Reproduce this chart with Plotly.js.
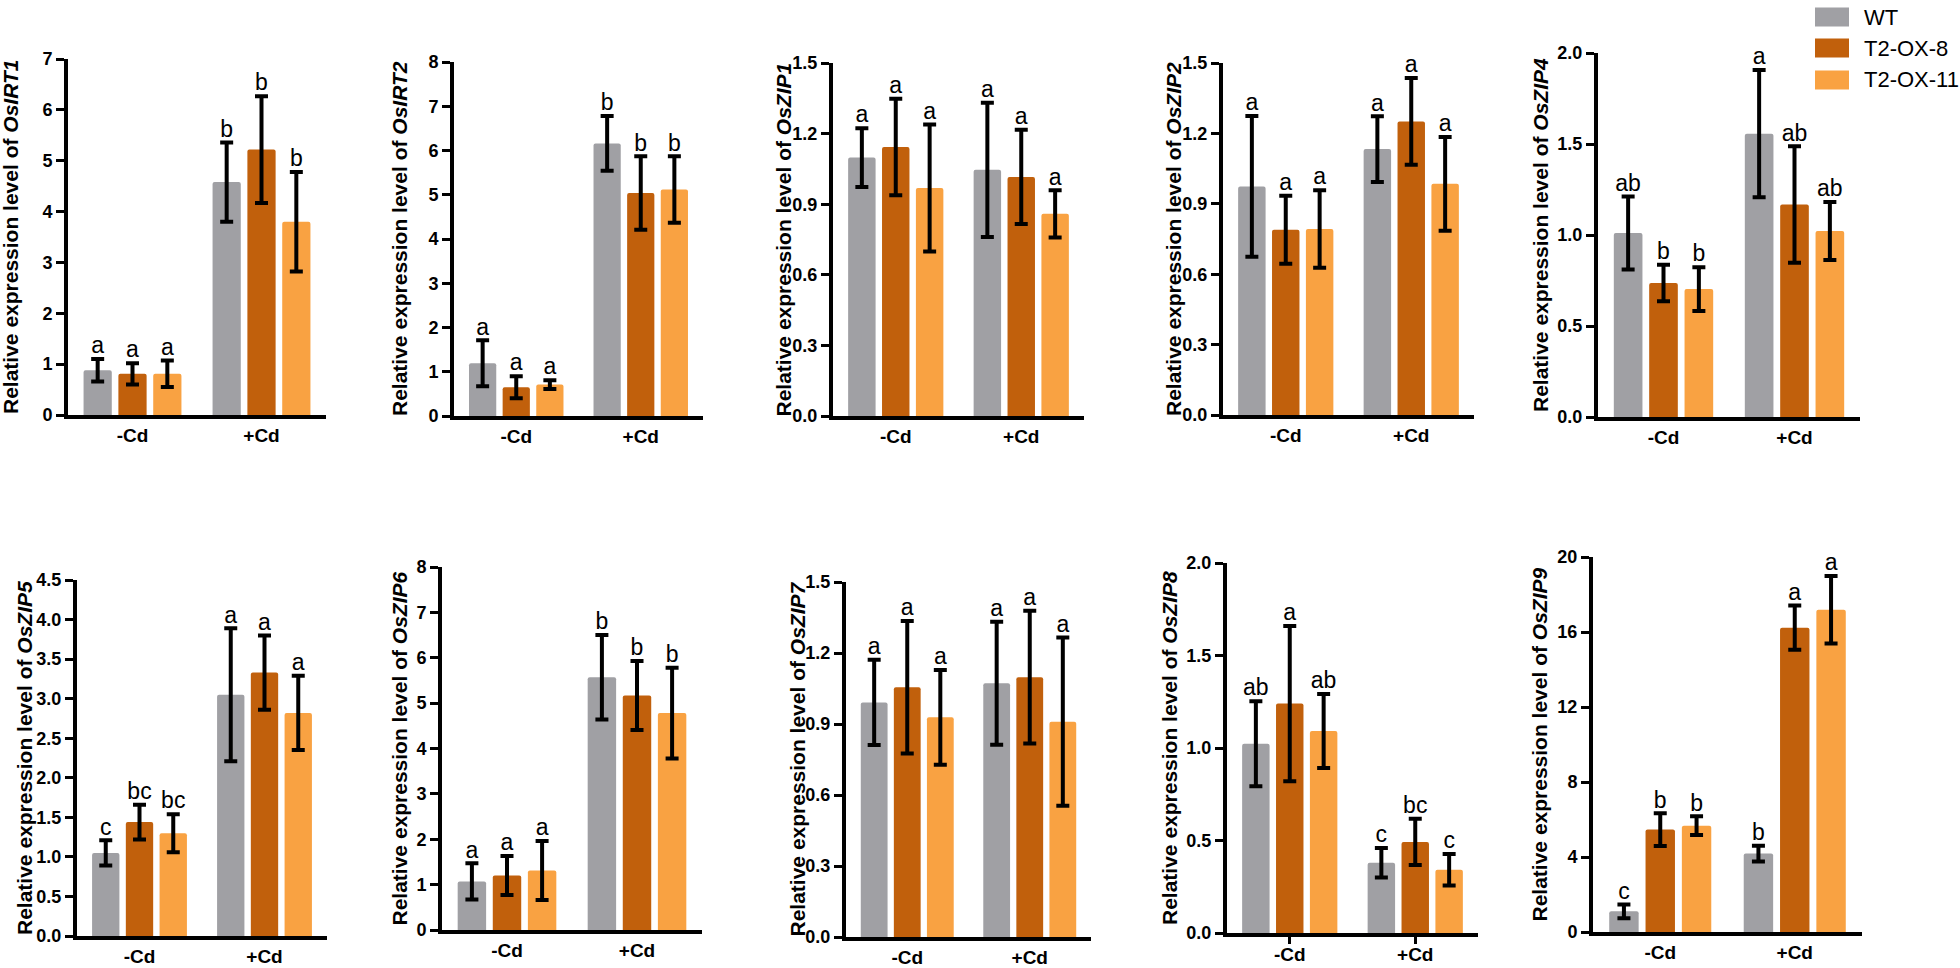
<!DOCTYPE html>
<html>
<head>
<meta charset="utf-8">
<script src="https://cdn.plot.ly/plotly-3.0.1.min.js"></script>
<style>
  html, body { margin: 0; padding: 0; background: #ffffff; }
  #chart { width: 1960px; height: 968px; }
</style>
</head>
<body>
<div id="chart"></div>
<script>
// ---------------- DATA ----------------
const genes = ['OsIRT1', 'OsIRT2', 'OsZIP1', 'OsZIP2', 'OsZIP4',
               'OsZIP5', 'OsZIP6', 'OsZIP7', 'OsZIP8', 'OsZIP9'];
const conditions = ['-Cd', '+Cd'];
const seriesNames = ['WT', 'T2-OX-8', 'T2-OX-11'];

// mean relative expression per gene: [-Cd, +Cd]
const WT_mean = [[0.88, 4.58], [1.19, 6.16], [1.098, 1.046], [0.974, 1.133], [1.011, 1.557],
                 [1.05, 3.05], [1.07, 5.57], [0.991, 1.072], [1.023, 0.38], [1.10, 4.18]];
const OX8_mean = [[0.81, 5.22], [0.65, 5.04], [1.143, 1.016], [0.789, 1.251], [0.736, 1.167],
                  [1.44, 3.33], [1.20, 5.17], [1.055, 1.098], [1.24, 0.492], [5.46, 16.23]];
const OX11_mean = [[0.81, 3.80], [0.71, 5.12], [0.969, 0.859], [0.793, 0.985], [0.703, 1.022],
                   [1.30, 2.82], [1.31, 4.78], [0.928, 0.910], [1.092, 0.342], [5.67, 17.19]];

// error bars (SD) per gene: [-Cd, +Cd]
const WT_err = [[0.22, 0.78], [0.52, 0.62], [0.125, 0.285], [0.30, 0.14], [0.20, 0.35],
                [0.16, 0.84], [0.40, 0.93], [0.18, 0.26], [0.23, 0.08], [0.37, 0.42]];
const OX8_err = [[0.21, 1.05], [0.25, 0.83], [0.205, 0.20], [0.145, 0.185], [0.10, 0.32],
                 [0.22, 0.47], [0.43, 0.76], [0.28, 0.28], [0.42, 0.125], [0.87, 1.18]];
const OX11_err = [[0.26, 0.98], [0.10, 0.75], [0.27, 0.10], [0.165, 0.20], [0.12, 0.16],
                  [0.24, 0.47], [0.65, 1.0], [0.20, 0.355], [0.20, 0.085], [0.50, 1.8]];

// significance letters per gene: [-Cd, +Cd]
const WT_sig = [['a', 'b'], ['a', 'b'], ['a', 'a'], ['a', 'a'], ['ab', 'a'],
                ['c', 'a'], ['a', 'b'], ['a', 'a'], ['ab', 'c'], ['c', 'b']];
const OX8_sig = [['a', 'b'], ['a', 'b'], ['a', 'a'], ['a', 'a'], ['b', 'ab'],
                 ['bc', 'a'], ['a', 'b'], ['a', 'a'], ['a', 'bc'], ['b', 'a']];
const OX11_sig = [['a', 'b'], ['a', 'b'], ['a', 'a'], ['a', 'a'], ['b', 'ab'],
                  ['bc', 'a'], ['a', 'b'], ['a', 'a'], ['ab', 'c'], ['b', 'a']];

// y-axis scales (tick labels)
const yMax = [7, 8, 1.5, 1.5, 2.0, 4.5, 8, 1.5, 2.0, 20];
const yStep = [1, 1, 0.3, 0.3, 0.5, 0.5, 1, 0.3, 0.5, 4];
const yFormat = ['d', 'd', '.1f', '.1f', '.1f', '.1f', 'd', '.1f', '.1f', 'd'];

// ---------------- LAYOUT / STYLE ----------------
const W = 1960, H = 968;
const seriesColors = ['#A0A0A4', '#C1600C', '#F9A242'];
const FONT = 'Liberation Sans, Arial, Helvetica, sans-serif';
// plot boxes in pixels: [left, right, top, bottom]
const boxes = [
  [68, 326, 59, 415], [454, 703, 62, 416], [833, 1084, 63, 416], [1223, 1474, 63, 415], [1598, 1860, 53, 417],
  [77, 327, 580, 936], [442, 702, 567, 930], [846, 1091, 582, 937], [1227, 1478, 563, 933], [1593, 1862, 557, 932]
];
const titleX = [11, 400, 783, 1174, 1540, 24, 399, 797, 1169, 1539];
const showXTicks = [false, false, false, false, false, false, false, false, true, false];

const means = [WT_mean, OX8_mean, OX11_mean];
const errs = [WT_err, OX8_err, OX11_err];
const sigs = [WT_sig, OX8_sig, OX11_sig];

const traces = [];
const layout = {
  width: W, height: H,
  margin: {l: 0, r: 0, t: 0, b: 0},
  paper_bgcolor: '#ffffff', plot_bgcolor: 'rgba(0,0,0,0)',
  font: {family: FONT, color: '#000000'},
  barmode: 'group', bargap: 0.19, bargroupgap: 0.19,
  scattermode: 'group', scattergap: 0.19,
  showlegend: false,
  annotations: [], shapes: []
};

genes.forEach((gene, i) => {
  const n = i === 0 ? '' : String(i + 1);
  const xa = 'x' + n, ya = 'y' + n;
  const b = boxes[i];
  for (let s = 0; s < 3; s++) {
    traces.push({
      type: 'bar', name: seriesNames[s], x: conditions, y: means[s][i],
      xaxis: xa, yaxis: ya, offsetgroup: String(s),
      marker: {color: seriesColors[s], line: {width: 0}, cornerradius: 2},
      error_y: {type: 'data', array: errs[s][i], visible: true, color: '#000000', thickness: 4, width: 6.5},
      hoverinfo: 'skip', showlegend: false
    });
    traces.push({
      type: 'scatter', mode: 'text', name: seriesNames[s] + ' letters', x: conditions,
      y: means[s][i].map((m, k) => m + errs[s][i][k]),
      text: sigs[s][i], textposition: 'top center',
      textfont: {family: FONT, size: 23, color: '#000000'},
      xaxis: xa, yaxis: ya, offsetgroup: String(s), cliponaxis: false,
      hoverinfo: 'skip', showlegend: false
    });
  }
  layout['xaxis' + n] = {
    domain: [b[0] / W, b[1] / W], anchor: ya,
    showline: true, linewidth: 4, linecolor: '#000000',
    ticks: showXTicks[i] ? 'outside' : '', ticklen: 7, tickwidth: 3, tickcolor: '#000000',
    ticklabelstandoff: showXTicks[i] ? -6 : 0,
    tickfont: {family: FONT, size: 19, weight: 'bold', color: '#000000'},
    showgrid: false, zeroline: false, fixedrange: true
  };
  layout['yaxis' + n] = {
    domain: [1 - b[3] / H, 1 - b[2] / H], anchor: xa,
    range: [0, yMax[i]], tick0: 0, dtick: yStep[i], tickformat: yFormat[i],
    showline: true, linewidth: 4, linecolor: '#000000',
    ticks: 'outside', ticklen: 8, tickwidth: 3, tickcolor: '#000000',
    tickfont: {family: FONT, size: 18, weight: 'bold', color: '#000000'},
    showgrid: false, zeroline: false, fixedrange: true
  };
  layout.annotations.push({
    xref: 'paper', yref: 'paper',
    x: titleX[i] / W, y: 1 - (b[2] + b[3]) / 2 / H,
    xanchor: 'center', yanchor: 'middle', textangle: -90, showarrow: false,
    text: 'Relative expression level of <i>' + gene + '</i>',
    font: {family: FONT, size: 21, weight: 'bold', color: '#000000'}
  });
});

// legend (custom, built from the series names/colours)
const legendRows = [17, 48, 80];
seriesNames.forEach((nm, s) => {
  const yc = legendRows[s];
  layout.shapes.push({
    type: 'rect', xref: 'paper', yref: 'paper',
    x0: 1815 / W, x1: 1849 / W, y0: 1 - (yc + 9.5) / H, y1: 1 - (yc - 9.5) / H,
    fillcolor: seriesColors[s], line: {width: 0}
  });
  layout.annotations.push({
    xref: 'paper', yref: 'paper', x: 1862 / W, y: 1 - yc / H,
    xanchor: 'left', yanchor: 'middle', showarrow: false, text: nm,
    font: {family: FONT, size: 22, color: '#000000'}
  });
});

Plotly.newPlot('chart', traces, layout, {displayModeBar: false, staticPlot: true});
</script>
</body>
</html>
